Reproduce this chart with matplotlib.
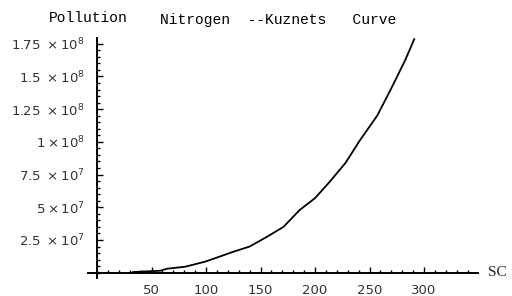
import matplotlib
matplotlib.use('Agg')
import matplotlib.pyplot as plt
from matplotlib.ticker import MultipleLocator, FixedLocator, FixedFormatter

plt.rcParams['mathtext.fontset'] = 'custom'
plt.rcParams['mathtext.rm'] = 'Liberation Sans'

# SC vs nitrogen pollution
sc = [33, 45, 58, 64, 81, 99, 108, 125, 140, 156, 171, 186, 200, 214, 228, 241, 257, 270, 283, 291]
pollution = [0.05, 0.1, 0.15, 0.3, 0.46, 0.84, 1.1, 1.6, 2.0, 2.75, 3.5, 4.8, 5.7, 7.0, 8.4, 10.1, 12.0, 14.1, 16.3, 17.85]
pollution = [p * 1e7 for p in pollution]

x_ticks = [50, 100, 150, 200, 250, 300]
y_ticks = [2.5e7, 5e7, 7.5e7, 1e8, 1.25e8, 1.5e8, 1.75e8]
y_labels = [r'$\mathregular{2.5\ \times10^{7}}$', r'$\mathregular{5\times10^{7}}$',
            r'$\mathregular{7.5\ \times10^{7}}$', r'$\mathregular{1\times10^{8}}$',
            r'$\mathregular{1.25\ \times10^{8}}$', r'$\mathregular{1.5\ \times10^{8}}$',
            r'$\mathregular{1.75\ \times10^{8}}$']

fig = plt.figure(figsize=(5.12, 2.96), dpi=100)
ax = fig.add_axes([88 / 512, 18 / 296, 390 / 512, 240 / 296])

ax.plot(sc, pollution, color='black', lw=1.3)

ax.set_xlim(-8.3, 349.5)
ax.set_ylim(-4.05e6, 1.794e8)

for side in ['top', 'right']:
    ax.spines[side].set_visible(False)
ax.spines['left'].set_position(('data', 0))
ax.spines['bottom'].set_position(('data', 0))
ax.spines['left'].set_linewidth(1.4)
ax.spines['bottom'].set_linewidth(1.4)

ax.xaxis.set_major_locator(FixedLocator(x_ticks))
ax.xaxis.set_minor_locator(MultipleLocator(10))
ax.yaxis.set_major_locator(FixedLocator(y_ticks))
ax.yaxis.set_major_formatter(FixedFormatter(y_labels))
ax.yaxis.set_minor_locator(MultipleLocator(5e6))

ax.tick_params(which='both', direction='in', color='black', width=1.0)
ax.tick_params(which='major', length=4)
ax.tick_params(which='minor', length=2)
ax.tick_params(axis='both', labelsize=9.5, labelcolor='#333333')
ax.tick_params(axis='x', pad=8)
ax.tick_params(axis='y', pad=9)

fig.text(88 / 512, 1 - 18 / 296, 'Pollution', family='Liberation Mono', fontsize=10.5,
         ha='center', va='center')
fig.text(160 / 512, 1 - 20 / 296, 'Nitrogen  --Kuznets   Curve', family='Liberation Mono',
         fontsize=10.5, ha='left', va='center')
fig.text(488 / 512, 1 - 272 / 296, 'SC', family='Liberation Serif', fontsize=11,
         ha='left', va='center', color='#222222')

fig.savefig('out.png', dpi=100)
